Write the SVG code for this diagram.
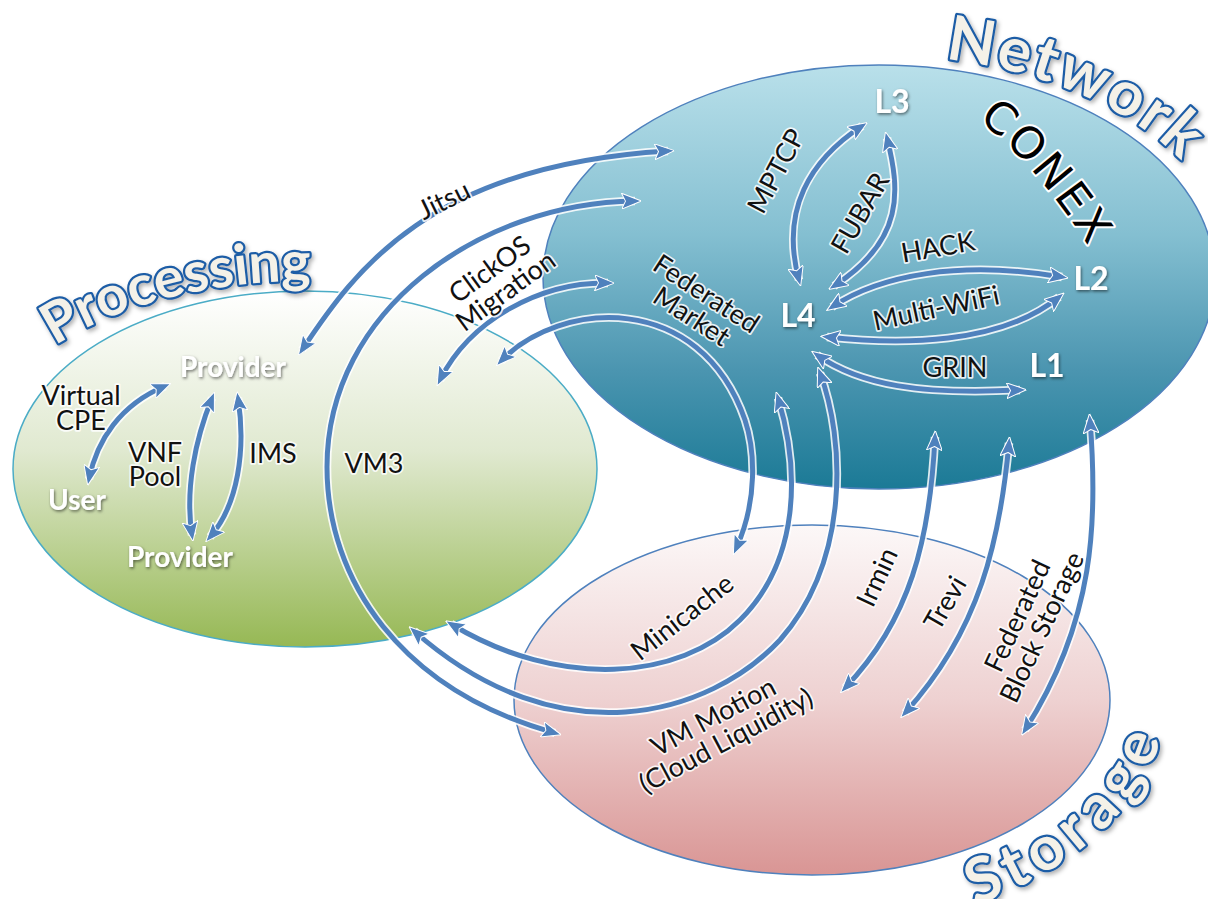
<svg xmlns="http://www.w3.org/2000/svg" xmlns:xlink="http://www.w3.org/1999/xlink" width="1208" height="899" viewBox="0 0 1208 899">
<defs>
  <linearGradient id="gNet" x1="0" y1="0" x2="0" y2="1">
    <stop offset="0" stop-color="#b9e0ea"/>
    <stop offset="0.4" stop-color="#84bfd1"/>
    <stop offset="0.72" stop-color="#4b95b0"/>
    <stop offset="1" stop-color="#1b7a96"/>
  </linearGradient>
  <linearGradient id="gProc" x1="0" y1="0" x2="0" y2="1">
    <stop offset="0" stop-color="#ffffff"/>
    <stop offset="0.45" stop-color="#e0e9d0"/>
    <stop offset="1" stop-color="#96b854"/>
  </linearGradient>
  <linearGradient id="gStor" x1="0" y1="0" x2="0" y2="1">
    <stop offset="0" stop-color="#fcf8f8"/>
    <stop offset="0.5" stop-color="#eed1d1"/>
    <stop offset="1" stop-color="#d99594"/>
  </linearGradient>
  <marker id="ah" viewBox="0 0 20 16" refX="13.5" refY="8" markerWidth="20" markerHeight="16" markerUnits="userSpaceOnUse" orient="auto-start-reverse">
    <path d="M0,0 L20,8 L0,16 L4,8 z" fill="#4f81bd" stroke="#fff" stroke-width="1" stroke-linejoin="round"/>
  </marker>
  <filter id="sh" x="-20%" y="-30%" width="140%" height="170%">
    <feDropShadow dx="1" dy="1.5" stdDeviation="1.5" flood-color="#000" flood-opacity="0.55"/>
  </filter>
  <filter id="tsh" x="-10%" y="-20%" width="120%" height="140%">
    <feDropShadow dx="2" dy="2.5" stdDeviation="2" flood-color="#000" flood-opacity="0.3"/>
  </filter>
  <path id="arc-network" d="M 945 59 A 355 222 0 0 1 1234 277"/>
  <path id="arc-processing" d="M 55 346 A 331 188 0 0 1 636 469"/>
  <path id="arc-storage" d="M 975 905 A 356 240 0 0 0 1168 695"/>
  <path id="arc-conex" d="M 978 120 Q 1035 162 1092 252"/>
  <path id="p-jitsu" d="M 302 350 C 355 270, 430 165, 668 151"/>
  <path id="p-vm3" d="M 635 201 C 480 203, 327 310, 327 467 C 327 580, 400 690, 555 733"/>
  <path id="p-click" d="M 608 283 C 540 282, 470 320, 440 380"/>
  <path id="p-fedm" d="M 501 361 C 560 300, 700 290, 745 420 C 755 450, 758 500, 736 549"/>
  <path id="p-mini" d="M 778 398 C 800 470, 800 560, 740 620 C 680 680, 560 690, 451 624"/>
  <path id="p-vmm" d="M 820 373 C 845 440, 850 560, 780 640 C 710 715, 560 760, 414 631"/>
  <path id="p-irmin" d="M 935 437 C 930 540, 910 620, 845 688"/>
  <path id="p-trevi" d="M 1009 443 C 1000 540, 980 630, 905 713"/>
  <path id="p-fbs" d="M 1090 420 C 1098 520, 1095 620, 1025 730"/>
  <path id="p-mptcp" d="M 862 126 C 810 160, 780 210, 799 280"/>
  <path id="p-fubar" d="M 887 138 C 900 190, 905 240, 834 286"/>
  <path id="p-hack" d="M 832 307 C 880 275, 960 260, 1062 277"/>
  <path id="p-wifi" d="M 827 337 C 900 345, 1000 345, 1059 297"/>
  <path id="p-grin" d="M 817 355 C 860 385, 920 395, 1020 390"/>
  <path id="p-vcpe" d="M 89 479 C 97 440, 120 405, 165 386"/>
  <path id="p-vnf" d="M 212 398 C 195 440, 185 490, 192 535"/>
  <path id="p-ims" d="M 238 398 C 246 450, 238 505, 210 537"/>
</defs>
<style>
  .lbl{font-family:Lato,"Open Sans",sans-serif;font-size:27px;fill:#111;text-anchor:middle;stroke:#fff;stroke-width:3.5px;stroke-linejoin:round;paint-order:stroke;stroke-opacity:0.85}
  .wl{font-family:Lato,"Open Sans",sans-serif;font-weight:bold;fill:#fff;text-anchor:middle;filter:url(#sh)}
  .nl{font-size:32px}
  .np{font-size:28px}
  .title{font-family:Lato,"Open Sans",sans-serif;font-weight:bold;fill:#f4f1e8;stroke:#1f5da6;stroke-width:4.5px;stroke-linejoin:round;paint-order:stroke;filter:url(#tsh)}
  .conex{font-family:"DejaVu Sans",sans-serif;font-size:44px;fill:#000;stroke:#fff;stroke-width:4px;stroke-linejoin:round;paint-order:stroke;letter-spacing:3px}
  .halo{fill:none;stroke:#fff;stroke-width:8.5px;stroke-opacity:0.85}
  .arrow{fill:none;stroke:#4f81bd;stroke-width:5px;marker-start:url(#ah);marker-end:url(#ah)}
</style>

<g id="network">
  <ellipse cx="879" cy="277" rx="336" ry="212" fill="url(#gNet)" stroke="#4f81bd" stroke-width="1.5"/>
  <text class="title" font-size="62" letter-spacing="3"><textPath href="#arc-network">Network</textPath></text>
  <text class="conex"><textPath href="#arc-conex">CONEX</textPath></text>
</g>
<g id="processing">
  <ellipse cx="305" cy="469" rx="292" ry="178" fill="url(#gProc)" stroke="#4bacc6" stroke-width="1.5"/>
  <text class="title" font-size="56"><textPath href="#arc-processing">Processing</textPath></text>
</g>
<g id="storage">
  <ellipse cx="812" cy="700" rx="298" ry="175" fill="url(#gStor)" stroke="#4f81bd" stroke-width="1.5"/>
  <text class="title" font-size="62" letter-spacing="8"><textPath href="#arc-storage">Storage</textPath></text>
</g>

<g id="connectors">
  <g id="c-jitsu"><use href="#p-jitsu" class="halo"/><use href="#p-jitsu" class="arrow"/></g>
  <g id="c-vm3"><use href="#p-vm3" class="halo"/><use href="#p-vm3" class="arrow"/></g>
  <g id="c-clickos"><use href="#p-click" class="halo"/><use href="#p-click" class="arrow"/></g>
  <g id="c-fedmarket"><use href="#p-fedm" class="halo"/><use href="#p-fedm" class="arrow"/></g>
  <g id="c-minicache"><use href="#p-mini" class="halo"/><use href="#p-mini" class="arrow"/></g>
  <g id="c-vmmotion"><use href="#p-vmm" class="halo"/><use href="#p-vmm" class="arrow"/></g>
  <g id="c-irmin"><use href="#p-irmin" class="halo"/><use href="#p-irmin" class="arrow"/></g>
  <g id="c-trevi"><use href="#p-trevi" class="halo"/><use href="#p-trevi" class="arrow"/></g>
  <g id="c-fbs"><use href="#p-fbs" class="halo"/><use href="#p-fbs" class="arrow"/></g>
  <g id="c-mptcp"><use href="#p-mptcp" class="halo"/><use href="#p-mptcp" class="arrow"/></g>
  <g id="c-fubar"><use href="#p-fubar" class="halo"/><use href="#p-fubar" class="arrow"/></g>
  <g id="c-hack"><use href="#p-hack" class="halo"/><use href="#p-hack" class="arrow"/></g>
  <g id="c-multiwifi"><use href="#p-wifi" class="halo"/><use href="#p-wifi" class="arrow"/></g>
  <g id="c-grin"><use href="#p-grin" class="halo"/><use href="#p-grin" class="arrow"/></g>
  <g id="c-vcpe"><use href="#p-vcpe" class="halo"/><use href="#p-vcpe" class="arrow"/></g>
  <g id="c-vnf"><use href="#p-vnf" class="halo"/><use href="#p-vnf" class="arrow"/></g>
  <g id="c-ims"><use href="#p-ims" class="halo"/><use href="#p-ims" class="arrow"/></g>

  <g id="connector-labels">
    <text class="lbl"><tspan x="81" y="405">Virtual</tspan><tspan x="81" y="430">CPE</tspan></text>
    <text class="lbl"><tspan x="155" y="462">VNF</tspan><tspan x="155" y="486">Pool</tspan></text>
    <text class="lbl" x="273" y="463">IMS</text>
    <text class="lbl" x="374" y="473">VM3</text>
    <text class="lbl" transform="translate(444 200) rotate(-26)" y="9.5">Jitsu</text>
    <text class="lbl" transform="translate(497.5 280) rotate(-36)"><tspan x="0" y="-4">ClickOS</tspan><tspan x="0" y="23">Migration</tspan></text>
    <text class="lbl" transform="translate(699 305) rotate(33)"><tspan x="0" y="-4">Federated</tspan><tspan x="0" y="23">Market</tspan></text>
    <text class="lbl" transform="translate(776 171) rotate(-62)" y="9.5">MPTCP</text>
    <text class="lbl" transform="translate(860 213) rotate(-60)" y="9.5">FUBAR</text>
    <text class="lbl" transform="translate(938 247) rotate(-10)" y="9.5">HACK</text>
    <text class="lbl" transform="translate(936 308) rotate(-12)" y="9.5">Multi-WiFi</text>
    <text class="lbl" x="955" y="377">GRIN</text>
    <text class="lbl" transform="translate(682 617) rotate(-38)" y="9.5">Minicache</text>
    <text class="lbl" transform="translate(719.5 728.5) rotate(-28)"><tspan x="0" y="-4">VM Motion</tspan><tspan x="0" y="23">(Cloud Liquidity)</tspan></text>
    <text class="lbl" transform="translate(877 577) rotate(-65)" y="9.5">Irmin</text>
    <text class="lbl" transform="translate(945 603) rotate(-60)" y="9.5">Trevi</text>
    <text class="lbl" transform="translate(1029.5 621.5) rotate(-65)"><tspan x="0" y="-4">Federated</tspan><tspan x="0" y="23">Block Storage</tspan></text>
  </g>
</g>

<g id="node-provider-top"><text class="wl np" x="233" y="377">Provider</text></g>
<g id="node-user"><text class="wl np" x="77" y="510">User</text></g>
<g id="node-provider-bottom"><text class="wl np" x="180" y="567">Provider</text></g>
<g id="node-L3"><text class="wl nl" x="892" y="113">L3</text></g>
<g id="node-L4"><text class="wl nl" x="798" y="327">L4</text></g>
<g id="node-L2"><text class="wl nl" x="1091" y="290">L2</text></g>
<g id="node-L1"><text class="wl nl" x="1047" y="377">L1</text></g>
</svg>
